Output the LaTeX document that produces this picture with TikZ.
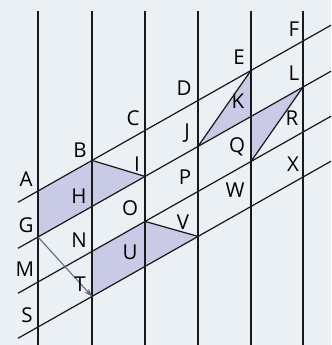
\documentclass[tikz,border=0pt]{standalone}
\usepackage{fontspec}
\setmainfont{Open Sans}
\usepackage{tikz}
\usetikzlibrary{arrows.meta}
\definecolor{paper}{RGB}{235,240,245}
\definecolor{lilac}{RGB}{201,203,230}
\definecolor{pen}{RGB}{25,25,30}
\definecolor{arrowgray}{RGB}{95,105,120}

\begin{document}
\begin{tikzpicture}[x=0.03cm,y=-0.03cm,
    ln/.style={draw=pen,line width=1.05pt},
    shade/.style={fill=lilac,draw=none},
    lab/.style={inner sep=0pt,font=\fontsize{17.5}{20}\selectfont}]

      \fill[paper] (0,0) rectangle (331,345);
      \useasboundingbox (0,0) rectangle (331,345);

      \coordinate (pA) at (38,191.0);
      \coordinate (pB) at (92,160.4);
      \coordinate (pC) at (145,130.4);
      \coordinate (pD) at (198,100.4);
      \coordinate (pE) at (251,70.4);
      \coordinate (pF) at (303,41.0);
      \coordinate (pG) at (38,237.0);
      \coordinate (pH) at (92,206.4);
      \coordinate (pI) at (145,176.4);
      \coordinate (pJ) at (198,146.4);
      \coordinate (pK) at (251,116.4);
      \coordinate (pL) at (303,87.0);
      \coordinate (pM) at (38,282.0);
      \coordinate (pN) at (92,251.4);
      \coordinate (pO) at (145,221.4);
      \coordinate (pP) at (198,191.4);
      \coordinate (pQ) at (251,161.4);
      \coordinate (pR) at (303,132.0);
      \coordinate (pS) at (38,327.0);
      \coordinate (pT) at (92,296.4);
      \coordinate (pU) at (145,266.4);
      \coordinate (pV) at (198,236.4);
      \coordinate (pW) at (251,206.4);
      \coordinate (pX) at (303,177.0);

      \coordinate (t1) at (38,11);
      \coordinate (t2) at (92,11);
      \coordinate (t3) at (145,11);
      \coordinate (t4) at (198,11);
      \coordinate (t5) at (251,11);
      \coordinate (t6) at (303,11);
      \coordinate (b1) at (38,345);
      \coordinate (b2) at (92,345);
      \coordinate (b3) at (145,345);
      \coordinate (b4) at (198,345);
      \coordinate (b5) at (251,345);
      \coordinate (b6) at (303,345);

      \coordinate (l1) at (18,202.3);
      \coordinate (l2) at (18,248.3);
      \coordinate (l3) at (18,293.3);
      \coordinate (l4) at (18,338.3);
      \coordinate (r1) at (331,25.2);
      \coordinate (r2) at (331,71.2);
      \coordinate (r3) at (331,116.2);
      \coordinate (r4) at (331,161.2);

      \fill[shade] (pA) -- (pB) -- (pI) -- (pG) -- cycle;
      \fill[shade] (pN) -- (pO) -- (pV) -- (pT) -- cycle;
      \fill[shade] (pJ) -- (pE) -- (pK) -- cycle;
      \fill[shade] (pK) -- (pQ) -- (pL) -- cycle;

      \draw[ln] (t1) -- (b1);
      \draw[ln] (t2) -- (b2);
      \draw[ln] (t3) -- (b3);
      \draw[ln] (t4) -- (b4);
      \draw[ln] (t5) -- (b5);
      \draw[ln] (t6) -- (b6);

      \draw[ln] (l1) -- (r1);
      \draw[ln] (l2) -- (r2);
      \draw[ln] (l3) -- (r3);
      \draw[ln] (l4) -- (r4);

      \draw[ln] (pB) -- (pI);
      \draw[ln] (pO) -- (pV);
      \draw[ln] (pJ) -- (pE);
      \draw[ln] (pQ) -- (pL);
      \draw[draw=arrowgray,line width=0.9pt,-{Stealth[length=7pt,width=5pt]}] (pG) -- (pT);

      \node[lab] (a) at (26,179){A};
      \node[lab] (b) at (80,150){B};
      \node[lab] (c) at (133,118){C};
      \node[lab] (d) at (184,88){D};
      \node[lab] (e) at (239,57){E};
      \node[lab] (f) at (294,29){F};
      \node[lab] (g) at (26,225){G};
      \node[lab] (h) at (79,196){H};
      \node[lab] (i) at (137,164){I};
      \node[lab] (j) at (187,133){J};
      \node[lab] (k) at (238,101){K};
      \node[lab] (l) at (294,73){L};
      \node[lab] (m) at (25,269){M};
      \node[lab] (n) at (79,240){N};
      \node[lab] (o) at (130,208){O};
      \node[lab] (p) at (185,177){P};
      \node[lab] (q) at (237,147){Q};
      \node[lab] (r) at (292,118){R};
      \node[lab] (s) at (27,315){S};
      \node[lab] (t) at (80,284){T};
      \node[lab] (u) at (130,252){U};
      \node[lab] (v) at (183,222){V};
      \node[lab] (w) at (235,190){W};
      \node[lab] (x) at (293,164){X};

    \end{tikzpicture}
\end{document}
